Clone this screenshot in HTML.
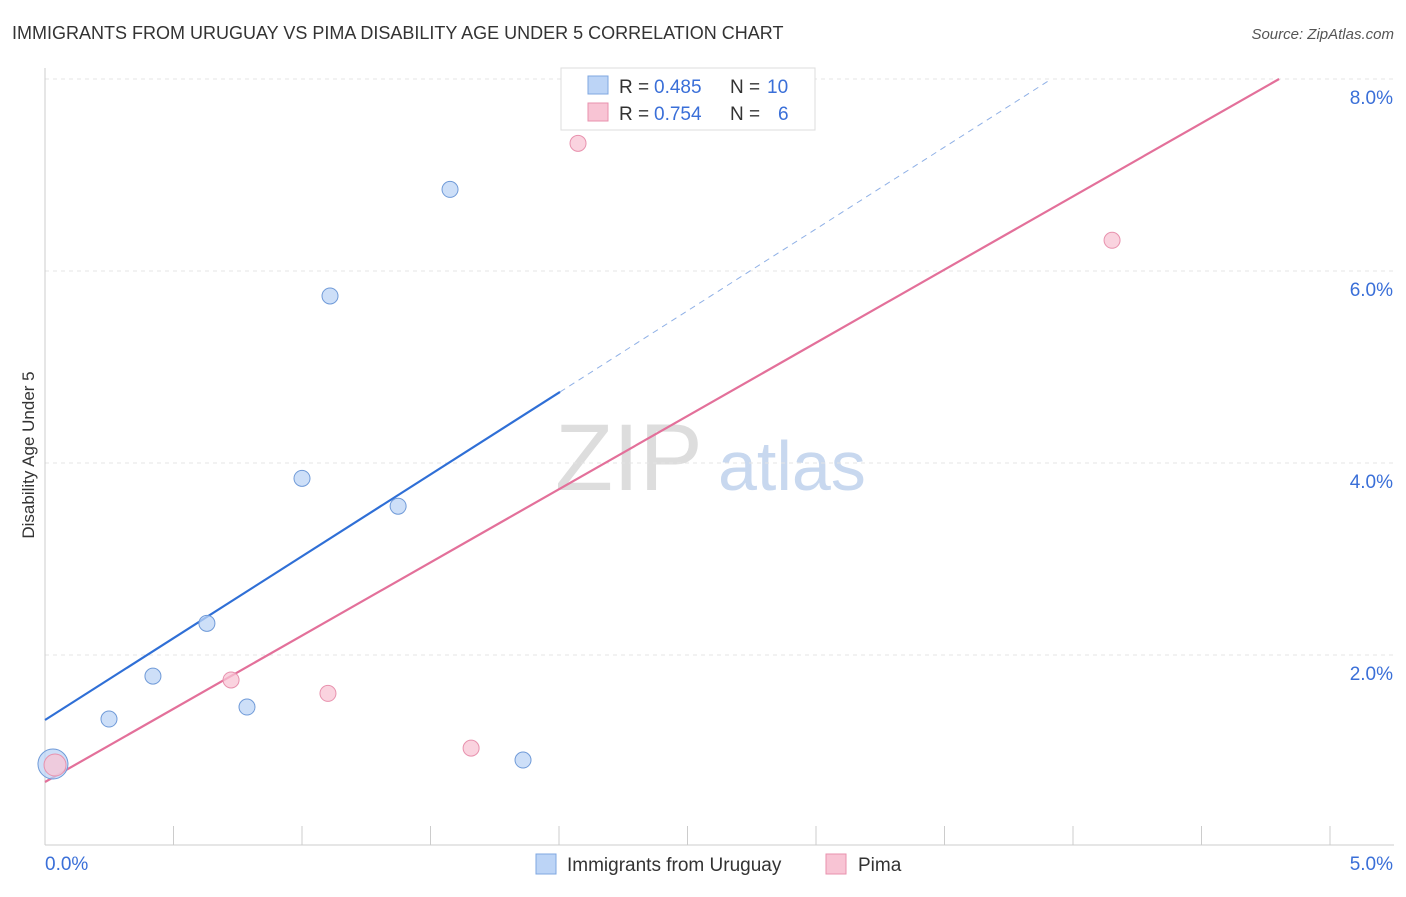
<!DOCTYPE html>
<html><head><meta charset="utf-8">
<style>
body{margin:0;background:#fff;font-family:"Liberation Sans",sans-serif;}
svg text{font-family:"Liberation Sans",sans-serif;}
</style></head>
<body>
<svg id="c" width="1406" height="892" xmlns="http://www.w3.org/2000/svg">
<text x="12" y="39" font-size="18" fill="#333">IMMIGRANTS FROM URUGUAY VS PIMA DISABILITY AGE UNDER 5 CORRELATION CHART</text>
<text x="1394" y="39" font-size="15" fill="#555" font-style="italic" text-anchor="end">Source: ZipAtlas.com</text>
<text x="34" y="455" font-size="17" fill="#333" transform="rotate(-90 34 455)" text-anchor="middle">Disability Age Under 5</text>
<text x="555" y="490" font-size="95" fill="#ddd" font-family="Liberation Serif">ZIP</text>
<text x="718" y="490" font-size="70" fill="#c8d8ef">atlas</text>
<g id="grid"></g><g id="lines"></g><g id="pts"></g>
<g>
<rect x="561" y="68" width="254" height="62" fill="#fff" stroke="#ddd"/>
<rect x="588" y="76" width="20" height="18" fill="#bcd4f6" stroke="#7fa7e0"/>
<text x="619" y="93" font-size="19" fill="#333">R =</text>
<text x="654" y="93" font-size="19" fill="#3a6fd8">0.485</text>
<text x="730" y="93" font-size="19" fill="#333">N =</text>
<text x="767" y="93" font-size="19" fill="#3a6fd8">10</text>
<rect x="588" y="103" width="20" height="18" fill="#f8c4d4" stroke="#e892ae"/>
<text x="619" y="120" font-size="19" fill="#333">R =</text>
<text x="654" y="120" font-size="19" fill="#3a6fd8">0.754</text>
<text x="730" y="120" font-size="19" fill="#333">N =</text>
<text x="778" y="120" font-size="19" fill="#3a6fd8">6</text>
</g>
<g>
<rect x="536" y="854" width="20" height="20" fill="#bcd4f6" stroke="#7fa7e0"/>
<text x="567" y="871" font-size="19" fill="#333">Immigrants from Uruguay</text>
<rect x="826" y="854" width="20" height="20" fill="#f8c4d4" stroke="#e892ae"/>
<text x="858" y="871" font-size="19" fill="#333">Pima</text>
</g>
</svg>
<script>
const xTicks=[0,0.5,1,1.5,2,2.5,3,3.5,4,4.5,5];
const yTicks=[2,4,6,8];
const yTickLabels=["2.0%","4.0%","6.0%","8.0%"];
const blueX=[0.031,0.249,0.42,0.63,0.786,1.0,1.109,1.374,1.576,1.86];
const blueY=[0.865,1.333,1.78,2.33,1.458,3.84,5.74,3.55,6.85,0.906];
const pinkX=[0.039,0.724,1.101,1.658,2.074,4.152];
const pinkY=[0.854,1.74,1.60,1.03,7.33,6.32];
const blueLine=[1.323,1.705];
const pinkLine=[0.677,1.525];
const X=v=>45+v*257;
const Y=v=>847-v*96;
const NS="http://www.w3.org/2000/svg";
function mk(p,t,a){const e=document.createElementNS(NS,t);for(const k in a)e.setAttribute(k,a[k]);p.appendChild(e);return e;}
const g=document.getElementById('grid');
yTicks.forEach((t,i)=>{
 const l=mk(g,'line',{x1:45,x2:1394,y1:Y(t),y2:Y(t),stroke:'#e4e4e4','stroke-dasharray':'4 4'});
 
 
 const tx=mk(g,'text',{x:1393,y:Y(t)+25,'font-size':19,fill:'#3a6fd8','text-anchor':'end'});
 tx.textContent=yTickLabels[i];
 
 
});
mk(g,'line',{x1:45,x2:45,y1:68,y2:845,stroke:'#ccc'});
mk(g,'line',{x1:45,x2:1394,y1:845,y2:845,stroke:'#ccc'});
xTicks.forEach(t=>{
 const l=mk(g,'line',{x1:X(t),x2:X(t),y1:826,y2:845,stroke:'#ccc'});
 
 
});
let a=mk(g,'text',{x:45,y:870,'font-size':19,fill:'#3a6fd8'});a.textContent='0.0%';


a=mk(g,'text',{x:1393,y:870,'font-size':19,fill:'#3a6fd8','text-anchor':'end'});a.textContent='5.0%';


const L=document.getElementById('lines');
const bEnd=2.004, bDash=(8-blueLine[0])/blueLine[1];
let e=mk(L,'line',{x1:X(0),y1:Y(blueLine[0]),x2:X(bEnd),y2:Y(blueLine[0]+blueLine[1]*bEnd),stroke:'#2f6fd6','stroke-width':2.2});


e=mk(L,'line',{x1:X(bEnd),y1:Y(blueLine[0]+blueLine[1]*bEnd),x2:X(bDash),y2:Y(8),stroke:'#8fb0e6','stroke-width':1,'stroke-dasharray':'6 5'});


const pEnd=(8-pinkLine[0])/pinkLine[1];
e=mk(L,'line',{x1:X(0),y1:Y(pinkLine[0]),x2:X(pEnd),y2:Y(8),stroke:'#e3709a','stroke-width':2.2});


const P=document.getElementById('pts');
blueX.forEach((v,i)=>{
 const c=mk(P,'circle',{cx:X(v),cy:Y(blueY[i]),r:i===0?15:8,fill:'#bcd4f6','fill-opacity':0.75,stroke:'#6f9ad8','stroke-width':1});
 
 
});
pinkX.forEach((v,i)=>{
 const c=mk(P,'circle',{cx:X(v),cy:Y(pinkY[i]),r:i===0?11:8,fill:'#f8c4d4','fill-opacity':0.75,stroke:'#e892ae','stroke-width':1});
 
 
});
</script>
</body></html>
